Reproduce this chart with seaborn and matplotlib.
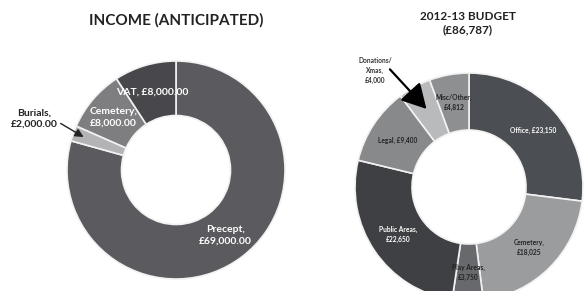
import numpy as np
import matplotlib
matplotlib.use("Agg")
import matplotlib.pyplot as plt
import seaborn as sns

sns.set_theme(style="white")
plt.rcParams['font.family'] = ['Lato', 'DejaVu Sans']

# income (anticipated)
inc_names = ['Precept', 'Burials', 'Cemetery', 'VAT']
inc_values = [69000, 2000, 8000, 8000]
inc_labels = ['Precept,\n£69,000.00', 'Burials,\n£2,000.00', 'Cemetery,\n£8,000.00', 'VAT, £8,000.00']
inc_colors = ['#5b5b5f', '#b3b3b5', '#7e7e80', '#48484c']

# 2012-13 budget
bud_names = ['Office', 'Cemetery', 'Play Areas', 'Public Areas', 'Legal', 'Donations/Xmas', 'Misc/Other']
bud_values = [23150, 18025, 3750, 22650, 9400, 4000, 4812]
bud_labels = ['Office, £23,150', 'Cemetery,\n£18,025', 'Play Areas,\n£3,750', 'Public Areas,\n£22,650',
              'Legal, £9,400', 'Donations/\nXmas,\n£4,000', 'Misc/Other,\n£4,812']
bud_colors = ['#4b4e52', '#9b9c9e', '#68696c', '#3f4043', '#88898b', '#b9babc', '#8e8f91']
bud_text = ['white', '#222222', '#222222', 'white', '#222222', '#222222', '#222222']

W, H = 586, 291
fig = plt.figure(figsize=(W / 100, H / 100), dpi=100)


def ring_axes(cx, cy, r):
    ax = fig.add_axes([(cx - r) / W, (H - cy - r) / H, 2 * r / W, 2 * r / H])
    ax.axis('off')
    return ax


def fix_limits(ax):
    ax.set_aspect('auto')
    ax.set_xlim(-1, 1)
    ax.set_ylim(-1, 1)


def mid_angles(values):
    v = np.array(values, dtype=float)
    ends = 90 - np.cumsum(v) / v.sum() * 360
    starts = ends + v / v.sum() * 360
    return np.deg2rad((starts + ends) / 2)


# left donut
ax1 = ring_axes(176, 170, 109)
ax1.pie(inc_values, colors=inc_colors, startangle=90, counterclock=False, radius=1,
        wedgeprops=dict(width=0.5, edgecolor='#f2f2f2', linewidth=1.2))
fix_limits(ax1)
ang = mid_angles(inc_values)
for i, lab in enumerate(inc_labels):
    if inc_names[i] == 'Burials':
        ax1.text(-1.30, 0.47, lab, ha='center', va='center', fontsize=7.5,
                 fontweight='bold', color='#222222')
        ax1.annotate('', xy=(0.9 * np.cos(ang[i]), 0.9 * np.sin(ang[i])), xytext=(-1.08, 0.44),
                     arrowprops=dict(arrowstyle='-|>,head_length=0.5,head_width=0.25',
                                     color='#222222', lw=1, mutation_scale=10, shrinkB=0),
                     annotation_clip=False)
    else:
        ax1.text(0.75 * np.cos(ang[i]), 0.75 * np.sin(ang[i]), lab, ha='center', va='center',
                 fontsize=7.5, fontweight='bold', color='white', linespacing=1.3)
fig.text(176 / W, 1 - 20 / H, 'INCOME (ANTICIPATED)', ha='center', va='center',
         fontsize=11, fontweight='bold', color='#222222')

# right donut
ax2 = ring_axes(469, 187, 114)
ax2.pie(bud_values, colors=bud_colors, startangle=90, counterclock=False, radius=1,
        wedgeprops=dict(width=0.5, edgecolor='#f2f2f2', linewidth=1.2))
fix_limits(ax2)
ang = mid_angles(bud_values)
for i, lab in enumerate(bud_labels):
    if bud_names[i] == 'Donations/Xmas':
        ax2.text(-0.825, 1.02, lab, ha='center', va='center', fontsize=4.8,
                 fontweight='bold', color='#333333', linespacing=1.45)
        ax2.annotate('', xy=(0.78 * np.cos(ang[i]), 0.78 * np.sin(ang[i])), xytext=(-0.71, 1.05),
                     arrowprops=dict(arrowstyle='-|>,head_length=1.0,head_width=0.55',
                                     color='black', lw=1.6, mutation_scale=15, shrinkB=0),
                     annotation_clip=False)
    else:
        ax2.text(0.75 * np.cos(ang[i]), 0.75 * np.sin(ang[i]), lab, ha='center', va='center',
                 fontsize=4.8, fontweight='bold', color=bud_text[i], linespacing=1.45)
fig.text(468 / W, 1 - 23 / H, '2012-13 BUDGET\n(£86,787)', ha='center', va='center',
         fontsize=8.5, fontweight='bold', color='#222222', linespacing=1.25)

fig.savefig('out.png', dpi=100, facecolor='white')
